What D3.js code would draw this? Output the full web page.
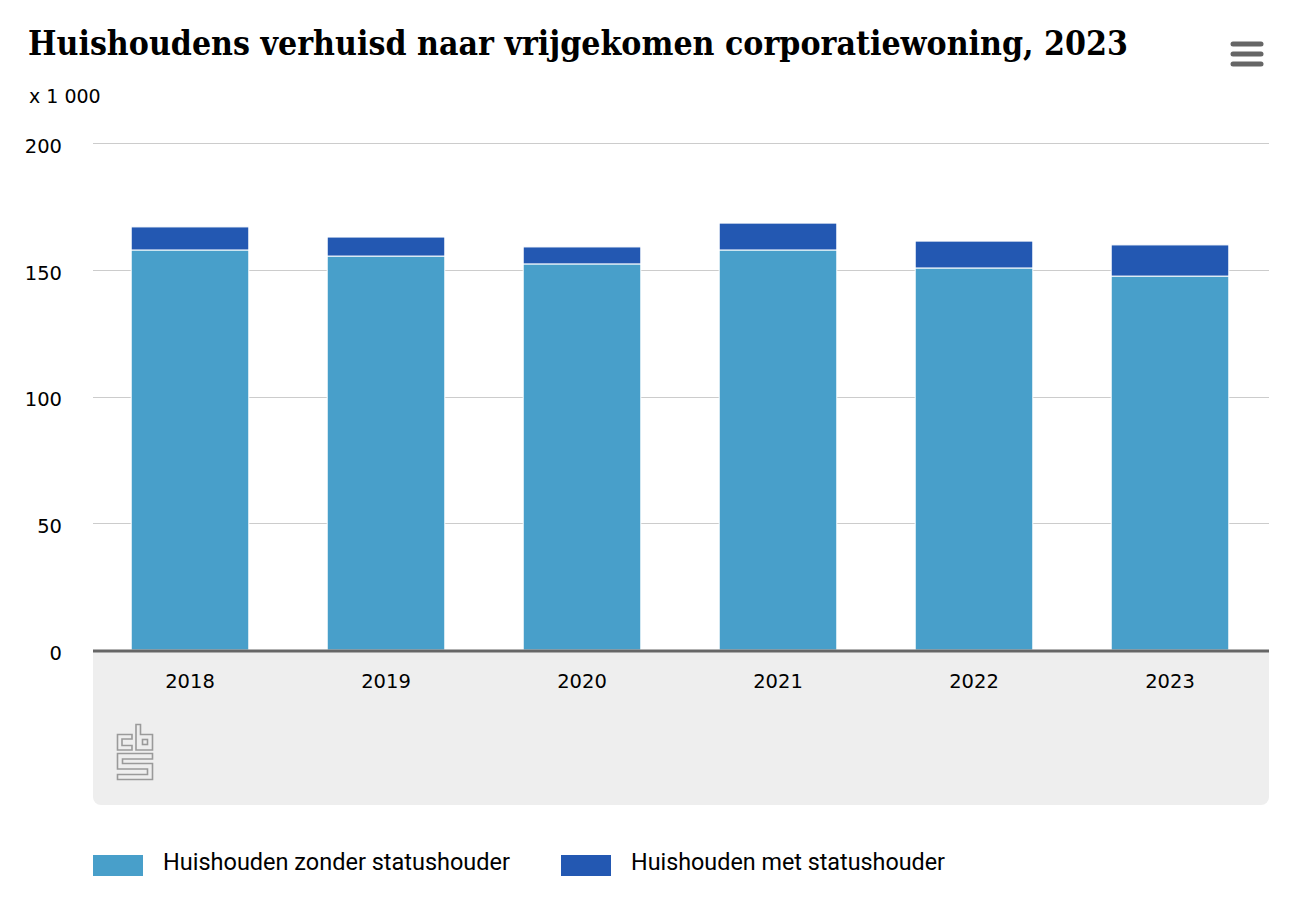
<!DOCTYPE html>
<html>
<head>
<meta charset="utf-8">
<script src="https://cdn.jsdelivr.net/npm/d3@7"></script>
<style>
  body { margin: 0; background: #fff; }
  #chart { width: 1302px; height: 902px; }
</style>
</head>
<body>
<div id="chart"></div>
<script>

// data
const years = ["2018", "2019", "2020", "2021", "2022", "2023"];
const zonder = [157.8, 155.4, 152.3, 157.8, 150.7, 147.5];
const met = [9.1, 7.5, 6.7, 10.6, 10.6, 12.3];
const yTicks = [0, 50, 100, 150, 200];
const seriesNames = ["Huishouden zonder statushouder", "Huishouden met statushouder"];
const colors = ["#489fca", "#2358b2"];

const width = 1302, height = 902;
const svg = d3.select("#chart").append("svg")
    .attr("width", width)
    .attr("height", height);

const plotLeft = 93, plotRight = 1269, plotTop = 143, plotBottom = 650;

const x = d3.scaleBand()
    .domain(years)
    .range([plotLeft - 1, plotRight - 1])
    .paddingInner(0.4)
    .paddingOuter(0.2);

const y = d3.scaleLinear()
    .domain([0, 200])
    .range([plotBottom, plotTop]);

// title
svg.append("text")
    .attr("x", 28)
    .attr("y", 55)
    .attr("textLength", 1100)
    .attr("lengthAdjust", "spacingAndGlyphs")
    .style("font-family", "DejaVu Serif")
    .style("font-weight", "bold")
    .style("font-size", "34px")
    .style("fill", "#000")
    .text("Huishoudens verhuisd naar vrijgekomen corporatiewoning, 2023");

svg.append("text")
    .attr("x", 29)
    .attr("y", 103)
    .style("font-family", "DejaVu Sans")
    .style("font-size", "19px")
    .text("x 1 000");

// menu icon
svg.selectAll("line.menu")
    .data([44, 54, 64])
    .enter()
    .append("line")
    .attr("class", "menu")
    .attr("x1", 1233).attr("x2", 1261)
    .attr("y1", d => d).attr("y2", d => d)
    .style("stroke", "#666")
    .style("stroke-width", 5)
    .style("stroke-linecap", "round");

// grey footer band
svg.append("path")
    .attr("d", `M${plotLeft},650 H${plotRight} V797 a8,8 0 0 1 -8,8 H${plotLeft + 8} a8,8 0 0 1 -8,-8 Z`)
    .style("fill", "#eeeeee");

// gridlines
svg.selectAll("line.grid")
    .data(yTicks.filter(d => d > 0))
    .enter()
    .append("line")
    .attr("class", "grid")
    .attr("x1", plotLeft).attr("x2", plotRight)
    .attr("y1", d => Math.round(y(d)) + 0.5)
    .attr("y2", d => Math.round(y(d)) + 0.5)
    .style("stroke", "#cccccc")
    .style("stroke-width", 1);

// y labels
const yAxis = d3.axisLeft(y).tickValues(yTicks).tickSize(0).tickPadding(0);
const yg = svg.append("g")
    .attr("transform", "translate(62,3)")
    .call(yAxis);
yg.select(".domain").remove();
yg.selectAll("text")
    .style("font-family", "DejaVu Sans")
    .style("font-size", "19.5px")
    .style("fill", "#000");

// stacked bars
const rows = years.map((yr, i) => ({ year: yr, zonder: zonder[i], met: met[i] }));
const stack = d3.stack().keys(["zonder", "met"])(rows);

svg.selectAll("g.series")
    .data(stack)
    .enter()
    .append("g")
    .attr("class", "series")
    .style("fill", (d, i) => colors[i])
    .selectAll("rect")
    .data(d => d)
    .enter()
    .append("rect")
    .attr("x", d => x(d.data.year))
    .attr("width", x.bandwidth())
    .attr("y", d => y(d[1]))
    .attr("height", d => y(d[0]) - y(d[1]))
    .style("stroke", "#fff")
    .style("stroke-width", 1);

// x axis line
svg.append("line")
    .attr("x1", plotLeft).attr("x2", plotRight)
    .attr("y1", 651).attr("y2", 651)
    .style("stroke", "#666")
    .style("stroke-width", 3);

// x labels
const xAxis = d3.axisBottom(x).tickSize(0).tickPadding(0);
const xg = svg.append("g")
    .attr("transform", "translate(0,674)")
    .call(xAxis);
xg.select(".domain").remove();
xg.selectAll("text")
    .style("font-family", "DejaVu Sans")
    .style("font-size", "19.5px")
    .style("fill", "#000");

// cbs logo
const logo = svg.append("g")
    .style("fill", "none")
    .style("stroke", "#9a9a9a")
    .style("stroke-width", 1.6);
logo.append("path").attr("d", "M132,734.5 H117.5 V750 H132 V745.5 H122 V739 H132 Z");
logo.append("path").attr("d", "M136,724.5 H140.5 V734.5 H152.5 V750 H136 Z");
logo.append("rect").attr("x", 142.5).attr("y", 739.5).attr("width", 5).attr("height", 5);
logo.append("path").attr("d", "M117.5,753.5 H152.5 V759 H122.5 V763.5 H152.5 V779.5 H117.5 V774.5 H147.5 V769 H117.5 Z");

// legend
const legend = svg.selectAll("g.legend")
    .data(seriesNames)
    .enter()
    .append("g")
    .attr("class", "legend")
    .attr("transform", (d, i) => `translate(${i === 0 ? 93 : 561},855)`);

legend.append("rect")
    .attr("width", 50)
    .attr("height", 21)
    .style("fill", (d, i) => colors[i]);

legend.append("text")
    .attr("x", 70)
    .attr("y", 15)
    .attr("textLength", (d, i) => i === 0 ? 347 : 314)
    .attr("lengthAdjust", "spacingAndGlyphs")
    .style("font-family", "Liberation Sans Narrow, Roboto, sans-serif")
    .style("font-size", "23px")
    .style("fill", "#000")
    .text(d => d);

</script>
</body>
</html>
